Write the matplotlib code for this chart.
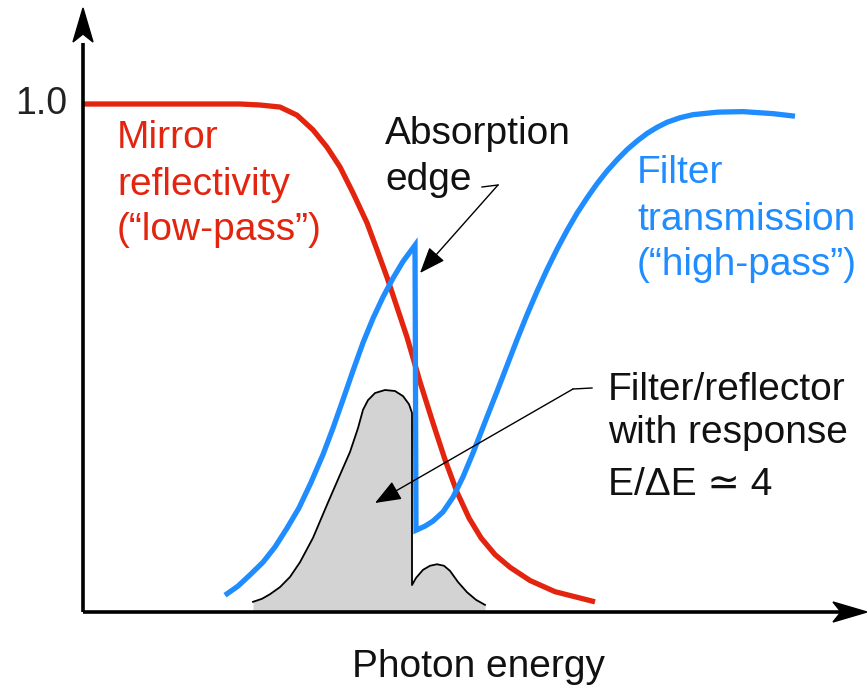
import matplotlib
matplotlib.use("Agg")
import matplotlib.pyplot as plt
from matplotlib.transforms import Affine2D
from matplotlib.patches import Polygon, FancyArrowPatch

# ---------------- data (energy in arbitrary units, value relative to 1.0) ----
red_E = [0, 117, 157, 177, 197, 214, 230, 244, 257, 270, 284, 294, 304, 314,
         324, 337, 350, 362, 374, 386, 398, 412, 427, 447, 472, 512]
red_v = [1.000, 1.000, 1.000, 0.998, 0.994, 0.978, 0.949, 0.915, 0.876, 0.825,
         0.766, 0.713, 0.659, 0.600, 0.541, 0.453, 0.372, 0.300, 0.236, 0.185,
         0.146, 0.113, 0.088, 0.062, 0.040, 0.020]

blue_E = [142, 155, 167, 180, 192, 204, 216, 228, 240, 250, 260, 270, 280, 290,
          300, 310, 320, 332,
          333, 342, 350, 360, 370, 380, 390, 404, 414, 424, 434, 444, 454, 464,
          474, 484, 494, 504, 514, 524, 534, 544, 554, 564, 574, 584, 597, 610,
          635, 660, 690, 712]
blue_v = [0.033, 0.051, 0.073, 0.098, 0.128, 0.165, 0.205, 0.255, 0.310, 0.362,
          0.418, 0.475, 0.530, 0.578, 0.620, 0.657, 0.690, 0.722,
          0.161, 0.169, 0.179, 0.197, 0.226, 0.266, 0.313, 0.384, 0.434, 0.485,
          0.536, 0.585, 0.631, 0.674, 0.714, 0.751, 0.785, 0.815, 0.843, 0.868,
          0.890, 0.910, 0.927, 0.942, 0.954, 0.964, 0.973, 0.979, 0.984, 0.985,
          0.981, 0.976]

resp_E = [170, 179, 187, 197, 207, 217, 230, 244, 257, 267, 275, 280, 285, 292,
          302, 312, 320, 326, 329, 329, 333, 340, 347, 354, 361, 367, 375, 384,
          393, 402]
resp_v = [0.020, 0.026, 0.035, 0.049, 0.069, 0.098, 0.146, 0.211, 0.270, 0.315,
          0.362, 0.398, 0.417, 0.431, 0.437, 0.435, 0.425, 0.409, 0.392, 0.053,
          0.067, 0.083, 0.091, 0.094, 0.091, 0.081, 0.059, 0.039, 0.024, 0.014]

ytick_value = 1.0
ytick_label = "1.0"
red_label = ["Mirror", "reflectivity", "(\u201clow-pass\u201d)"]
blue_label = ["Filter", "transmission", "(\u201chigh-pass\u201d)"]
edge_label = ["Absorption", "edge"]
resp_label = ["Filter/reflector", "with response", "E/\u0394E \u2243 4"]
xlabel = "Photon energy"

# ---------------- styling ----------------
RED = "#e3240e"
BLUE = "#1f8cff"
GRAY = "#d3d3d3"
FONT = ["Liberation Sans", "DejaVu Sans"]
FS = 28

W, H = 867, 685
fig = plt.figure(figsize=(W / 100, H / 100), dpi=100)
ax = fig.add_axes([0, 0, 1, 1])
ax.set_axis_off()
# mapping: axis origin at pixel (83, 612); value 1.0 at pixel row 104
ax.set_xlim(-83, W - 83)
ax.set_ylim((612 - H) / 508, 612 / 508)

PIX = Affine2D().scale(1, -1).translate(0, H)  # image pixel coords (y down)

# response (gray filled)
ax.fill_between(resp_E, resp_v, 0, color=GRAY, lw=0, zorder=1)
ax.plot(resp_E, resp_v, color="black", lw=1.3, zorder=2, solid_joinstyle="round")

# curves
ax.plot(red_E, red_v, color=RED, lw=3.8, zorder=3, solid_capstyle="butt",
        solid_joinstyle="round")
ax.plot(blue_E, blue_v, color=BLUE, lw=3.8, zorder=4, solid_capstyle="butt",
        solid_joinstyle="miter")

# axes with arrowheads
ax.plot([0, 0], [0, 1.12], color="black", lw=2.6, zorder=5, solid_capstyle="butt")
ax.plot([0, 760], [0, 0], color="black", lw=2.6, zorder=5, solid_capstyle="butt")
ax.add_patch(Polygon([(83, 8), (93, 42), (83, 34), (73, 42)], closed=True,
                     color="black", transform=PIX, zorder=6))
ax.add_patch(Polygon([(867, 612), (833, 602), (841, 612), (833, 622)], closed=True,
                     color="black", transform=PIX, zorder=6))

# tick label
ax.text(-16, ytick_value, ytick_label, fontsize=27, family=FONT, ha="right",
        va="center", color="#222222")

def lines(texts, x, ys, color):
    for t, y in zip(texts, ys):
        ax.text(x, y, t, transform=PIX, fontsize=FS, family=FONT, color=color,
                ha="left", va="baseline", zorder=7)

lines(red_label, 117, [148, 195, 240], RED)
lines(blue_label, 637, [183, 230, 275], BLUE)
lines(edge_label, 385, [144, 190], "#111111")
lines(resp_label, 608, [400, 443, 495], "#111111")
ax.text(479, 677, xlabel, transform=PIX, fontsize=FS, family=FONT, ha="center",
        va="baseline", color="#111111")

# leader lines with arrows
ax.plot([482, 498], [187, 185], color="black", lw=1.0, transform=PIX, zorder=8)
ax.add_patch(FancyArrowPatch((498, 185), (420, 273), transform=PIX,
                             arrowstyle="-|>,head_length=0.9,head_width=0.35",
                             mutation_scale=18, color="black", lw=1.0, zorder=8,
                             shrinkA=0, shrinkB=0))
ax.plot([592, 573], [388, 389], color="black", lw=1.0, transform=PIX, zorder=8)
ax.add_patch(FancyArrowPatch((573, 389), (375, 503), transform=PIX,
                             arrowstyle="-|>,head_length=0.9,head_width=0.35",
                             mutation_scale=18, color="black", lw=1.0, zorder=8,
                             shrinkA=0, shrinkB=0))

fig.savefig("out.png", dpi=100)
